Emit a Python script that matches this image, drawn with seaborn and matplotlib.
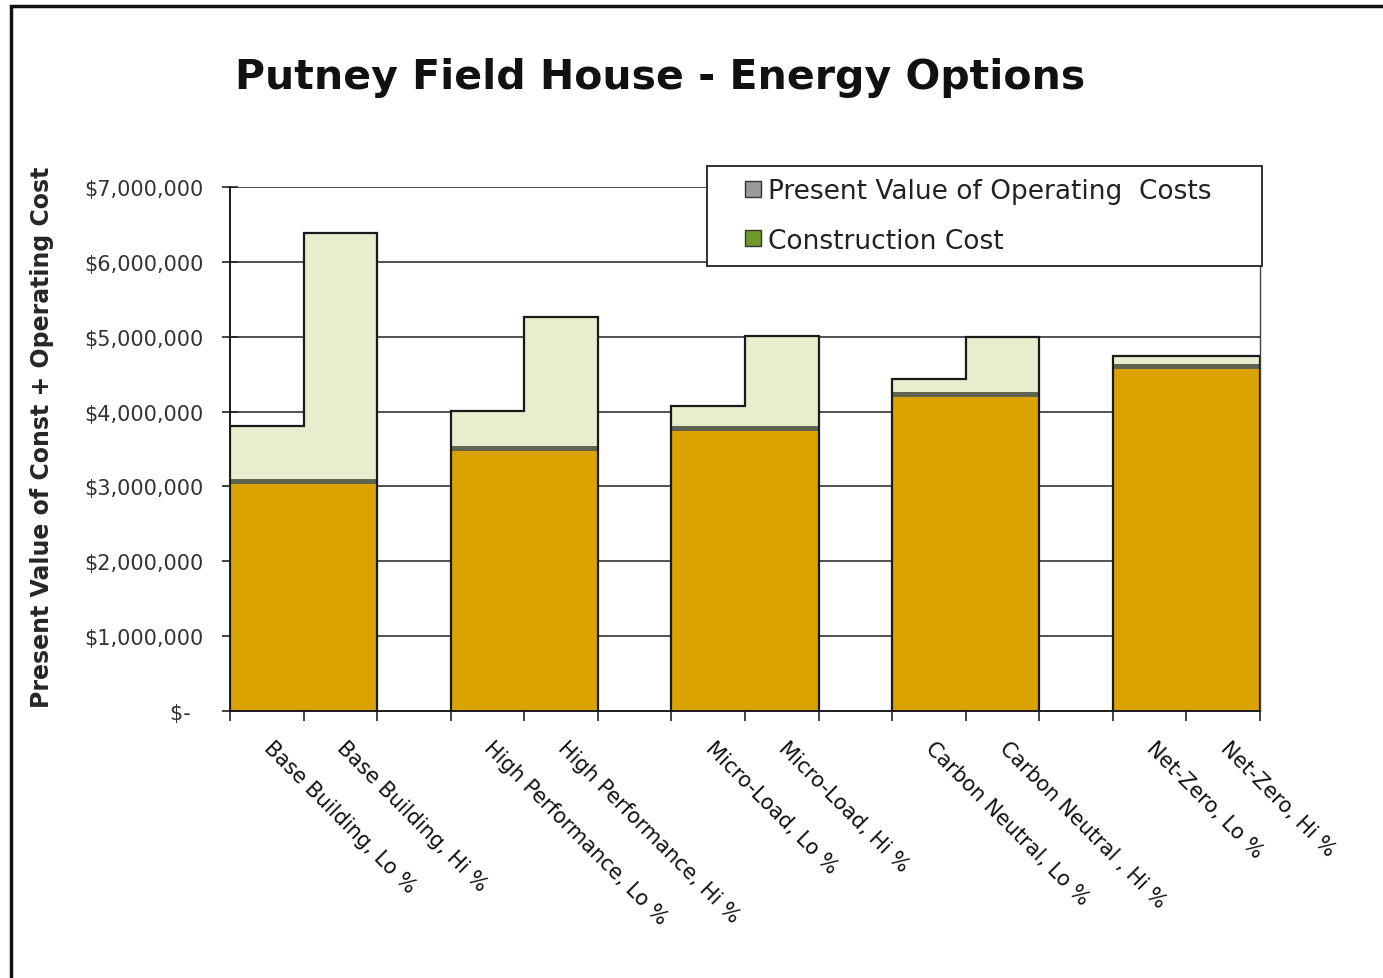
import numpy as np
import matplotlib.pyplot as plt
import matplotlib.patches as mpatches
from matplotlib.lines import Line2D
import seaborn as sns
import pandas as pd

opcje = ['Base Building, Lo %', 'Base Building, Hi %',
         'High Performance, Lo %', 'High Performance, Hi %',
         'Micro-Load, Lo %', 'Micro-Load, Hi %',
         'Carbon Neutral, Lo %', 'Carbon Neutral , Hi %',
         'Net-Zero, Lo %', 'Net-Zero, Hi %']
pozycje = [0, 1, 3, 4, 6, 7, 9, 10, 12, 13]
budowa = [3030000, 3030000, 3470000, 3470000, 3740000, 3740000,
          4190000, 4190000, 4570000, 4570000]
eksploatacja = [780000, 3360000, 540000, 1790000, 330000, 1270000,
                240000, 810000, 170000, 170000]
y_ticks = [0, 1e6, 2e6, 3e6, 4e6, 5e6, 6e6, 7e6]
y_labels = ['$-  ', '$1,000,000', '$2,000,000', '$3,000,000', '$4,000,000',
            '$5,000,000', '$6,000,000', '$7,000,000']

df = pd.DataFrame({'poz': pozycje, 'opcja': opcje,
                   'budowa': budowa, 'eksploatacja': eksploatacja})
df['razem'] = df['budowa'] + df['eksploatacja']
df['pasek'] = df['budowa'] + 70000

sns.set_style('white')
plt.rcParams['font.family'] = ['DejaVu Sans']

fig = plt.figure(figsize=(13.83, 9.79), dpi=100)
ax = fig.add_axes([0.1663, 0.2727, 0.7448, 0.5353])

for y in y_ticks[1:]:
    ax.axhline(y, color='#222222', lw=1.1, zorder=0)

kw = dict(x='poz', native_scale=True, width=1.0, linewidth=0, saturation=1, ax=ax, zorder=2)
sns.barplot(data=df, y='razem', color='#E6EECD', **kw)
sns.barplot(data=df, y='pasek', color='#5E6450', **kw)
sns.barplot(data=df, y='budowa', color='#DBA300', **kw)

# outline of each Lo/Hi pair
bars = ax.patches[:len(df)]
for i in range(0, len(bars), 2):
    a, b = bars[i], bars[i + 1]
    x0, x1, x2 = a.get_x(), b.get_x(), b.get_x() + b.get_width()
    h0, h1 = a.get_height(), b.get_height()
    ax.plot([x0, x0, x1, x1, x2, x2], [0, h0, h0, h1, h1, 0],
            color='#1a1a1a', lw=1.6, zorder=3, solid_joinstyle='miter')

ax.set_xlim(-0.5, 13.5)
ax.set_ylim(0, 7e6)
ax.set_yticks(y_ticks)
ax.set_yticklabels(y_labels)
ax.set_xticks(np.arange(-0.5, 14, 1.0))
ax.set_xticklabels([])
ax.set_xticks(pozycje, minor=True)
ax.set_xticklabels(opcje, minor=True, rotation=-45, ha='left', va='center',
                   rotation_mode='anchor', fontsize=15, color='#111111')
ax.tick_params(axis='x', which='minor', bottom=True, length=0, pad=24)
ax.tick_params(axis='x', which='major', bottom=True, direction='out', length=7,
               width=1.2, color='#222222')
ax.tick_params(axis='y', left=True, direction='inout', length=12, width=1.2,
               color='#222222', labelsize=15, labelcolor='#333333', pad=13)
ax.set_xlabel('')
ax.set_ylabel('Present Value of Const + Operating Cost', fontsize=17,
              fontweight='bold')
ax.yaxis.set_label_coords(-0.171, 0.525)

for s in ['left', 'bottom']:
    ax.spines[s].set_color('#1a1a1a')
    ax.spines[s].set_linewidth(1.4)
ax.spines['right'].set_color('#444444')
ax.spines['right'].set_linewidth(1.0)
ax.spines['top'].set_visible(False)

fig.text(0.477, 0.92, 'Putney Field House - Energy Options', ha='center', va='center',
         fontsize=29.5, fontweight='bold', color='#111111')

uchwyty = [Line2D([], [], ls='none', marker='s', markersize=12, markerfacecolor='#9a9a9a',
                  markeredgecolor='#333333', label='Present Value of Operating  Costs'),
           Line2D([], [], ls='none', marker='s', markersize=12, markerfacecolor='#6f9a2a',
                  markeredgecolor='#333333', label='Construction Cost')]
leg = fig.legend(handles=uchwyty, loc='upper left',
                 bbox_to_anchor=(707 / 1383, 1 - 167 / 979, 555 / 1383, 0.0),
                 mode='expand', fontsize=19, frameon=True, fancybox=False,
                 edgecolor='#222222', handlelength=2.6, handletextpad=-0.75,
                 borderpad=0.45, labelspacing=0.9, borderaxespad=0)
leg.get_frame().set_linewidth(1.3)
leg.get_frame().set_facecolor('white')
leg.get_frame().set_alpha(1)
for t in leg.get_texts():
    t.set_color('#222222')

fig.patches.append(mpatches.Rectangle((11 / 1383, -0.01), 1.0, 1 - 7 / 979 + 0.01,
                                      transform=fig.transFigure, fill=False,
                                      edgecolor='#111111', lw=2.5))

fig.savefig('out.png', dpi=100)
